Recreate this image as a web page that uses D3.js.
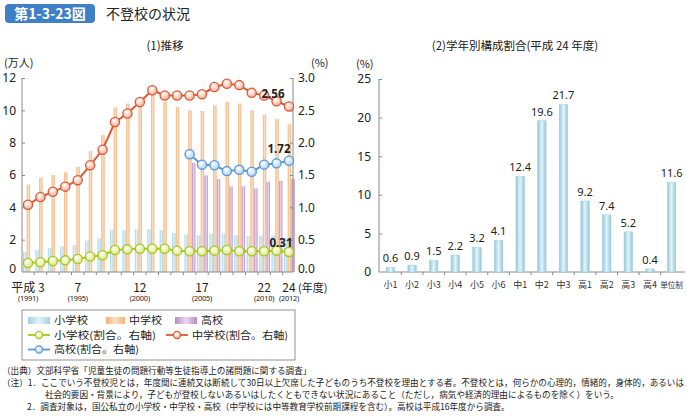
<!DOCTYPE html>
<html><head><meta charset="utf-8">
<script src="https://cdn.jsdelivr.net/npm/d3@7"></script>
<style>
body{margin:0;background:#fff;}
svg{font-family:"Noto Sans CJK JP","Noto Sans",sans-serif;}
</style></head>
<body><svg id="c" width="687" height="417"></svg>
<script>
// ---- data ----
const years = ["3","4","5","6","7","8","9","10","11","12","13","14","15","16","17","18","19","20","21","22","23","24"];
const elemCount = [1.26,1.37,1.48,1.58,1.66,1.95,2.08,2.60,2.60,2.64,2.65,2.59,2.41,2.33,2.27,2.38,2.39,2.27,2.23,2.25,2.26,2.12];
const juniorCount = [5.42,5.84,6.00,6.17,6.50,7.49,8.47,10.17,10.42,10.79,11.22,10.54,10.21,10.00,9.96,10.31,10.53,10.42,10.01,9.74,9.48,9.14];
const highCount = [null,null,null,null,null,null,null,null,null,null,null,null,null,6.75,5.97,5.75,5.30,5.30,5.17,5.58,5.64,5.77];
const elemRate = [0.14,0.15,0.17,0.18,0.20,0.24,0.26,0.34,0.35,0.36,0.36,0.36,0.33,0.32,0.32,0.33,0.34,0.32,0.32,0.32,0.33,0.31];
const juniorRate = [1.04,1.16,1.24,1.32,1.42,1.65,1.89,2.32,2.45,2.63,2.81,2.73,2.73,2.73,2.75,2.86,2.91,2.89,2.77,2.73,2.64,2.56];
const highRate = [null,null,null,null,null,null,null,null,null,null,null,null,null,1.82,1.66,1.65,1.56,1.58,1.55,1.66,1.68,1.72];
const xLabelMain = {"3":"平成 3","7":"7","12":"12","17":"17","22":"22","24":"24"};
const xLabelSub = {"3":"(1991)","7":"(1995)","12":"(2000)","17":"(2005)","22":"(2010)","24":"(2012)"};
const leftTicks = [0,2,4,6,8,10,12];
const rightTicks = [0,0.5,1.0,1.5,2.0,2.5,3.0];

const grades = ["小1","小2","小3","小4","小5","小6","中1","中2","中3","高1","高2","高3","高4","単位制"];
const gradeShare = [0.6,0.9,1.5,2.2,3.2,4.1,12.4,19.6,21.7,9.2,7.4,5.2,0.4,11.6];
const shareTicks = [0,5,10,15,20,25];

const svg = d3.select("#c");
const defs = svg.append("defs");
function barGrad(id, edge, mid){
  const g = defs.append("linearGradient").attr("id",id).attr("x1","0").attr("x2","1").attr("y1","0").attr("y2","0");
  g.append("stop").attr("offset","0").attr("stop-color",edge);
  g.append("stop").attr("offset","0.5").attr("stop-color",mid);
  g.append("stop").attr("offset","1").attr("stop-color",edge);
}
barGrad("gElem","#9fd2e3","#e3f3f8");
barGrad("gJun","#f0b27a","#fbe0c6");
barGrad("gHigh","#b98bc3","#ead8ee");
barGrad("gShare","#8ec8dc","#e6f4f9");
function dotGrad(id, c){
  const g = defs.append("radialGradient").attr("id",id).attr("cx","0.4").attr("cy","0.35").attr("r","0.7");
  g.append("stop").attr("offset","0").attr("stop-color","#fff");
  g.append("stop").attr("offset","1").attr("stop-color",c);
}
dotGrad("dElem","#d6e67a");
dotGrad("dJun","#f1a98e");
dotGrad("dHigh","#a9cdf0");

const axisCol = "#8a8a8a";
const lblFont = "'Noto Sans','DejaVu Sans',sans-serif";

// ---- header ----
svg.append("rect").attr("x",5).attr("y",4).attr("width",90).attr("height",19).attr("rx",4).attr("fill","#3f7fc6");
svg.append("text").attr("x",50).attr("y",19).attr("text-anchor","middle").attr("fill","#fff")
  .attr("font-size",14).attr("font-weight","bold").text("第1-3-23図");
svg.append("text").attr("x",106).attr("y",19).attr("font-size",14).attr("fill","#222").text("不登校の状況");

// ---- left chart ----
const x = d3.scalePoint().domain(years).range([28,289]);
const yL = d3.scaleLinear().domain([0,12]).range([272,78]);
const yR = d3.scaleLinear().domain([0,3]).range([272,78]);
const L = svg.append("g");
L.append("text").attr("x",165).attr("y",50).attr("text-anchor","middle").attr("font-size",11.5).attr("fill","#222").text("(1)推移");
L.append("text").attr("x",4).attr("y",67).attr("font-size",11).attr("fill","#222").text("(万人)");
L.append("text").attr("x",311).attr("y",67).attr("font-size",11).attr("fill","#222").text("(%)");

const step = x.step();
const bw = 3.4;
const bars = L.append("g");
years.forEach((yr,i)=>{
  const cx = x(yr);
  bars.append("rect").attr("x",cx-5).attr("width",bw).attr("y",yL(elemCount[i])).attr("height",yL(0)-yL(elemCount[i])).attr("fill","url(#gElem)");
  bars.append("rect").attr("x",cx-1.3).attr("width",bw).attr("y",yL(juniorCount[i])).attr("height",yL(0)-yL(juniorCount[i])).attr("fill","url(#gJun)");
  if(highCount[i]!=null)
    bars.append("rect").attr("x",cx+2.4).attr("width",bw).attr("y",yL(highCount[i])).attr("height",yL(0)-yL(highCount[i])).attr("fill","url(#gHigh)");
});

// axes
const axL = d3.axisLeft(yL).tickValues(leftTicks).tickSize(-3).tickPadding(6).tickFormat(d3.format("d"));
const gL = L.append("g").attr("transform","translate(22,0)").call(axL);
const axR = d3.axisRight(yR).tickValues(rightTicks).tickSize(-3).tickPadding(5).tickFormat(d3.format(".1f"));
const gR = L.append("g").attr("transform","translate(293,0)").call(axR);
[gL,gR].forEach(g=>{
  g.select(".domain").attr("stroke",axisCol).attr("d","M0,78V272");
  g.selectAll(".tick line").attr("stroke",axisCol);
  g.selectAll("text").attr("font-size",12).attr("fill","#222").attr("font-family",lblFont);
  g.selectAll(".tick").filter(d=>d===0).select("line").remove();
  g.selectAll(".tick").filter(d=>d===0).select("text").attr("dy","0.08em");
});
// baseline with ticks between years
L.append("line").attr("x1",22).attr("x2",293).attr("y1",272).attr("y2",272).attr("stroke",axisCol);
years.forEach((yr,i)=>{
  if(i>0) L.append("line").attr("x1",x(yr)-step/2).attr("x2",x(yr)-step/2).attr("y1",272).attr("y2",275).attr("stroke",axisCol);
});
// x labels
years.forEach(yr=>{
  if(xLabelMain[yr]){
    L.append("text").attr("x",x(yr)).attr("y",291.5).attr("text-anchor","middle").attr("font-size",12).attr("fill","#222").text(xLabelMain[yr]);
    L.append("text").attr("x",x(yr)).attr("y",301).attr("text-anchor","middle").attr("font-size",7.4).attr("fill","#222").attr("font-family",lblFont).attr("letter-spacing","-0.2").text(xLabelSub[yr]);
  }
});
L.append("text").attr("x",298).attr("y",291.5).attr("font-size",11).attr("fill","#222").text("(年度)");

// lines
function drawLine(vals, col, grad){
  const pts = years.map((yr,i)=>({x:x(yr), v:vals[i]})).filter(d=>d.v!=null);
  L.append("path").datum(pts).attr("fill","none").attr("stroke",col).attr("stroke-width",2)
    .attr("d", d3.line().x(d=>d.x).y(d=>yR(d.v)));
  L.append("g").selectAll("circle").data(pts).join("circle").attr("cx",d=>d.x).attr("cy",d=>yR(d.v)).attr("r",4.6)
    .attr("fill",`url(#${grad})`).attr("stroke",col).attr("stroke-width",1.3);
}
drawLine(elemRate,"#a9c61b","dElem");
drawLine(juniorRate,"#d95b36","dJun");
drawLine(highRate,"#5b98d8","dHigh");
const last = years.length-1;
function endLabel(v, dx, dy){
  L.append("text").attr("x",x(years[last])+dx).attr("y",yR(v)+dy).attr("text-anchor","middle").attr("font-size",11.5)
    .attr("font-weight","bold").attr("font-family",lblFont).attr("fill","#222").text(v.toFixed(2));
}
endLabel(juniorRate[last],-16,-8);
endLabel(highRate[last],-10,-8);
endLabel(elemRate[last],-8,-5);

// legend
const lg = svg.append("g");
lg.append("rect").attr("x",22).attr("y",310).attr("width",273).attr("height",50).attr("fill","#fff").attr("stroke","#777").attr("stroke-width",0.8);
const lfs = 10;
function sw(xp,yp,w,grad,label,tl){
  lg.append("rect").attr("x",xp).attr("y",yp-3.5).attr("width",w).attr("height",7).attr("fill",`url(#${grad})`);
  lg.append("text").attr("x",xp+w+4).attr("y",yp+3.6).attr("font-size",lfs).attr("fill","#222").attr("textLength",tl).attr("lengthAdjust","spacingAndGlyphs").text(label);
}
function ln(xp,yp,col,grad,label,tl){
  lg.append("line").attr("x1",xp).attr("x2",xp+22).attr("y1",yp).attr("y2",yp).attr("stroke",col).attr("stroke-width",1.8);
  lg.append("circle").attr("cx",xp+11).attr("cy",yp).attr("r",3.6).attr("fill",`url(#${grad})`).attr("stroke",col).attr("stroke-width",1.1);
  lg.append("text").attr("x",xp+26).attr("y",yp+3.6).attr("font-size",lfs).attr("fill","#222").attr("textLength",tl).attr("lengthAdjust","spacingAndGlyphs").text(label);
}
sw(28,320.5,22,"gElem","小学校",34);
sw(106,320.5,19,"gJun","中学校",33);
sw(175,320.5,22,"gHigh","高校",22);
ln(28,335,"#a9c61b","dElem","小学校(割合。右軸)",102);
ln(166,335,"#d95b36","dJun","中学校(割合。右軸)",96);
ln(28,349.5,"#5b98d8","dHigh","高校(割合。右軸)",85);

// ---- right chart ----
const R = svg.append("g");
const xg = d3.scaleBand().domain(grades).range([379,683]).paddingInner(0).paddingOuter(0.03);
const ys = d3.scaleLinear().domain([0,25]).range([272,79]);
R.append("text").attr("x",515).attr("y",50).attr("text-anchor","middle").attr("font-size",11.5).attr("fill","#222").text("(2)学年別構成割合(平成 24 年度)");
R.append("text").attr("x",356).attr("y",68).attr("font-size",11).attr("fill","#222").text("(%)");
const ax2 = d3.axisLeft(ys).tickValues(shareTicks).tickSize(-3).tickPadding(8).tickFormat(d3.format("d"));
const g2 = R.append("g").attr("transform","translate(379,0)").call(ax2);
g2.select(".domain").attr("stroke",axisCol).attr("d","M0,79V272");
g2.selectAll(".tick line").attr("stroke",axisCol);
g2.selectAll(".tick").filter(d=>d===0).select("line").remove();
g2.selectAll("text").attr("font-size",12).attr("fill","#222").attr("font-family",lblFont);
R.append("line").attr("x1",379).attr("x2",685).attr("y1",272).attr("y2",272).attr("stroke",axisCol);
grades.forEach((g,i)=>{
  if(i>0) R.append("line").attr("x1",xg(g)).attr("x2",xg(g)).attr("y1",272).attr("y2",275).attr("stroke",axisCol);
});
const sbw = 8.5;
R.append("g").selectAll("rect").data(grades).join("rect")
  .attr("x",d=>xg(d)+xg.bandwidth()/2-sbw/2).attr("width",sbw)
  .attr("y",(d,i)=>ys(gradeShare[i])).attr("height",(d,i)=>ys(0)-ys(gradeShare[i]))
  .attr("fill","url(#gShare)").attr("stroke","#9dcfe0").attr("stroke-width",0.5);
R.append("g").selectAll("text").data(grades).join("text")
  .attr("x",d=>xg(d)+xg.bandwidth()/2).attr("y",(d,i)=>ys(gradeShare[i])-5)
  .attr("text-anchor","middle").attr("font-size",11).attr("font-family",lblFont).attr("fill","#222")
  .text((d,i)=>gradeShare[i].toFixed(1));
R.append("g").selectAll("text").data(grades).join("text")
  .attr("x",d=>xg(d)+xg.bandwidth()/2).attr("y",288)
  .attr("text-anchor","middle").attr("font-size",d=>d.length>2?7.6:9).attr("fill","#333")
  .text(d=>d);

// ---- notes ----
const nf = 8.6;
const notes = svg.append("g").attr("fill","#222").attr("font-size",nf);
notes.append("text").attr("x",2).attr("y",374).text("（出典）文部科学省「児童生徒の問題行動等生徒指導上の諸問題に関する調査」");
notes.append("text").attr("x",2).attr("y",386).attr("textLength",682).attr("lengthAdjust","spacingAndGlyphs")
  .text("（注）1．ここでいう不登校児とは，年度間に連続又は断続して30日以上欠席した子どものうち不登校を理由とする者。不登校とは，何らかの心理的，情緒的，身体的，あるいは");
notes.append("text").attr("x",45).attr("y",398)
  .text("社会的要因・背景により，子どもが登校しないあるいはしたくともできない状況にあること（ただし，病気や経済的理由によるものを除く）をいう。");
notes.append("text").attr("x",27).attr("y",410)
  .text("2．調査対象は，国公私立の小学校・中学校・高校（中学校には中等教育学校前期課程を含む）。高校は平成16年度から調査。");
</script></body></html>
